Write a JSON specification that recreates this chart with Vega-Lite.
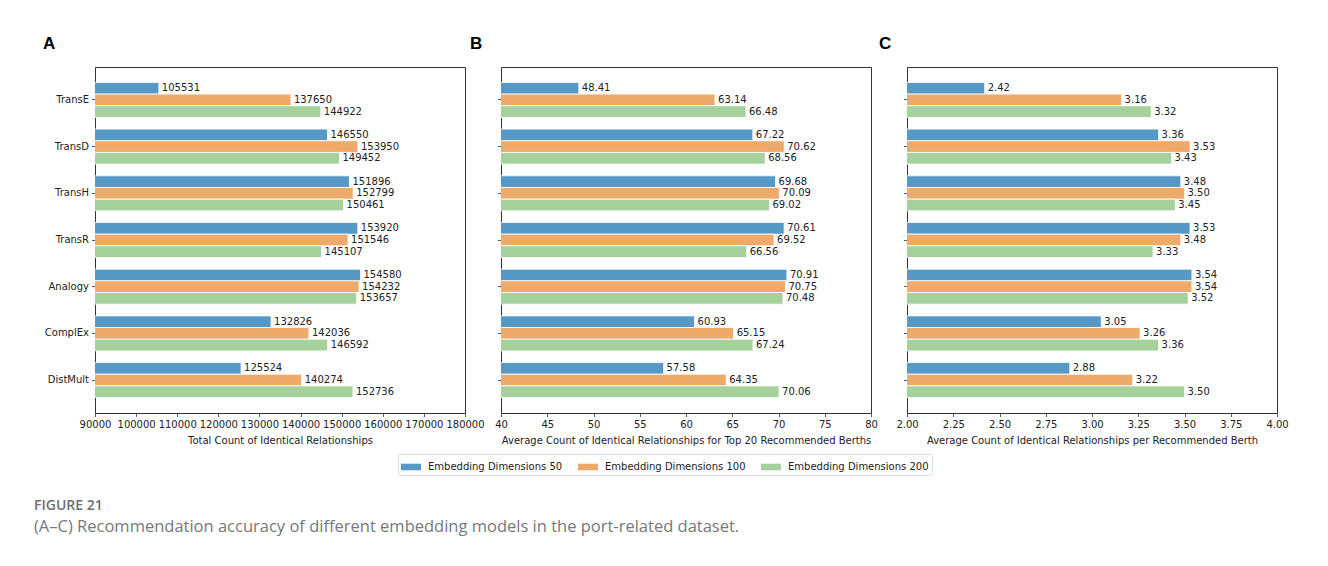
{
  "$schema": "https://vega.github.io/schema/vega-lite/v6.json",
  "background": "white",
  "padding": {"left": 34, "top": 34, "right": 10, "bottom": 10},
  "datasets": {
    "scores": [
      {"model": "TransE", "series": "Embedding Dimensions 50", "total": 105531, "top20": 48.41, "perBerth": 2.42},
      {"model": "TransE", "series": "Embedding Dimensions 100", "total": 137650, "top20": 63.14, "perBerth": 3.16},
      {"model": "TransE", "series": "Embedding Dimensions 200", "total": 144922, "top20": 66.48, "perBerth": 3.32},
      {"model": "TransD", "series": "Embedding Dimensions 50", "total": 146550, "top20": 67.22, "perBerth": 3.36},
      {"model": "TransD", "series": "Embedding Dimensions 100", "total": 153950, "top20": 70.62, "perBerth": 3.53},
      {"model": "TransD", "series": "Embedding Dimensions 200", "total": 149452, "top20": 68.56, "perBerth": 3.43},
      {"model": "TransH", "series": "Embedding Dimensions 50", "total": 151896, "top20": 69.68, "perBerth": 3.48},
      {"model": "TransH", "series": "Embedding Dimensions 100", "total": 152799, "top20": 70.09, "perBerth": 3.50},
      {"model": "TransH", "series": "Embedding Dimensions 200", "total": 150461, "top20": 69.02, "perBerth": 3.45},
      {"model": "TransR", "series": "Embedding Dimensions 50", "total": 153920, "top20": 70.61, "perBerth": 3.53},
      {"model": "TransR", "series": "Embedding Dimensions 100", "total": 151546, "top20": 69.52, "perBerth": 3.48},
      {"model": "TransR", "series": "Embedding Dimensions 200", "total": 145107, "top20": 66.56, "perBerth": 3.33},
      {"model": "Analogy", "series": "Embedding Dimensions 50", "total": 154580, "top20": 70.91, "perBerth": 3.54},
      {"model": "Analogy", "series": "Embedding Dimensions 100", "total": 154232, "top20": 70.75, "perBerth": 3.54},
      {"model": "Analogy", "series": "Embedding Dimensions 200", "total": 153657, "top20": 70.48, "perBerth": 3.52},
      {"model": "ComplEx", "series": "Embedding Dimensions 50", "total": 132826, "top20": 60.93, "perBerth": 3.05},
      {"model": "ComplEx", "series": "Embedding Dimensions 100", "total": 142036, "top20": 65.15, "perBerth": 3.26},
      {"model": "ComplEx", "series": "Embedding Dimensions 200", "total": 146592, "top20": 67.24, "perBerth": 3.36},
      {"model": "DistMult", "series": "Embedding Dimensions 50", "total": 125524, "top20": 57.58, "perBerth": 2.88},
      {"model": "DistMult", "series": "Embedding Dimensions 100", "total": 140274, "top20": 64.35, "perBerth": 3.22},
      {"model": "DistMult", "series": "Embedding Dimensions 200", "total": 152736, "top20": 70.06, "perBerth": 3.50}
    ]
  },
  "title": {
    "text": "FIGURE 21",
    "subtitle": "(A–C) Recommendation accuracy of different embedding models in the port-related dataset.",
    "orient": "bottom",
    "anchor": "start",
    "frame": "group",
    "dx": -61,
    "offset": 23,
    "font": "Open Sans",
    "fontSize": 14,
    "fontWeight": 600,
    "color": "#6d6e71",
    "subtitleFont": "Open Sans",
    "subtitleFontSize": 16.5,
    "subtitleColor": "#77787b",
    "subtitlePadding": 6
  },
  "bounds": "flush",
  "spacing": 36,
  "hconcat": [
    {
      "width": 370,
      "height": 346,
      "data": {"name": "scores"},
      "title": {"text": "A", "anchor": "start", "frame": "group", "dx": -52, "offset": 14, "font": "Liberation Sans", "fontSize": 17, "fontWeight": "bold", "color": "#000000"},
      "encoding": {
        "y": {"field": "model", "type": "nominal", "sort": null, "title": null,
              "scale": {"paddingInner": 0.25, "paddingOuter": 0.33},
              "axis": {"labels": true}},
        "yOffset": {"field": "series", "type": "nominal", "sort": ["Embedding Dimensions 50", "Embedding Dimensions 100", "Embedding Dimensions 200"], "scale": {"paddingInner": 0, "paddingOuter": 0}},
        "x": {"field": "total", "type": "quantitative", "title": "Total Count of Identical Relationships",
              "scale": {"domain": [90000, 180000], "zero": false, "nice": false},
              "axis": {"values": [90000, 100000, 110000, 120000, 130000, 140000, 150000, 160000, 170000, 180000], "format": "d"}}
      },
      "layer": [
        {"mark": {"type": "bar", "clip": true, "stroke": "white", "strokeWidth": 0.8},
         "encoding": {"color": {"field": "series", "type": "nominal", "title": null,
                                "scale": {"domain": ["Embedding Dimensions 50", "Embedding Dimensions 100", "Embedding Dimensions 200"], "range": ["#5799c6", "#eeaa6b", "#a6d19d"]}}}},
        {"mark": {"type": "text", "align": "left", "baseline": "middle", "dx": 3, "fontSize": 10, "font": "DejaVu Sans", "color": "#222222"},
         "encoding": {"text": {"field": "total", "type": "quantitative", "format": "d"}}}
      ]
    },
    {
      "width": 370,
      "height": 346,
      "data": {"name": "scores"},
      "title": {"text": "B", "anchor": "start", "frame": "group", "dx": -31, "offset": 14, "font": "Liberation Sans", "fontSize": 17, "fontWeight": "bold", "color": "#000000"},
      "encoding": {
        "y": {"field": "model", "type": "nominal", "sort": null, "title": null,
              "scale": {"paddingInner": 0.25, "paddingOuter": 0.33},
              "axis": {"labels": false}},
        "yOffset": {"field": "series", "type": "nominal", "sort": ["Embedding Dimensions 50", "Embedding Dimensions 100", "Embedding Dimensions 200"], "scale": {"paddingInner": 0, "paddingOuter": 0}},
        "x": {"field": "top20", "type": "quantitative", "title": "Average Count of Identical Relationships for Top 20 Recommended Berths",
              "scale": {"domain": [40, 80], "zero": false, "nice": false},
              "axis": {"values": [40, 45, 50, 55, 60, 65, 70, 75, 80], "format": "d"}}
      },
      "layer": [
        {"mark": {"type": "bar", "clip": true, "stroke": "white", "strokeWidth": 0.8},
         "encoding": {"color": {"field": "series", "type": "nominal", "title": null,
                                "scale": {"domain": ["Embedding Dimensions 50", "Embedding Dimensions 100", "Embedding Dimensions 200"], "range": ["#5799c6", "#eeaa6b", "#a6d19d"]}}}},
        {"mark": {"type": "text", "align": "left", "baseline": "middle", "dx": 3, "fontSize": 10, "font": "DejaVu Sans", "color": "#222222"},
         "encoding": {"text": {"field": "top20", "type": "quantitative", "format": ".2f"}}}
      ]
    },
    {
      "width": 370,
      "height": 346,
      "data": {"name": "scores"},
      "title": {"text": "C", "anchor": "start", "frame": "group", "dx": -28, "offset": 14, "font": "Liberation Sans", "fontSize": 17, "fontWeight": "bold", "color": "#000000"},
      "encoding": {
        "y": {"field": "model", "type": "nominal", "sort": null, "title": null,
              "scale": {"paddingInner": 0.25, "paddingOuter": 0.33},
              "axis": {"labels": false}},
        "yOffset": {"field": "series", "type": "nominal", "sort": ["Embedding Dimensions 50", "Embedding Dimensions 100", "Embedding Dimensions 200"], "scale": {"paddingInner": 0, "paddingOuter": 0}},
        "x": {"field": "perBerth", "type": "quantitative", "title": "Average Count of Identical Relationships per Recommended Berth",
              "scale": {"domain": [2, 4], "zero": false, "nice": false},
              "axis": {"values": [2, 2.25, 2.5, 2.75, 3, 3.25, 3.5, 3.75, 4], "format": ".2f"}}
      },
      "layer": [
        {"mark": {"type": "bar", "clip": true, "stroke": "white", "strokeWidth": 0.8},
         "encoding": {"color": {"field": "series", "type": "nominal", "title": null,
                                "scale": {"domain": ["Embedding Dimensions 50", "Embedding Dimensions 100", "Embedding Dimensions 200"], "range": ["#5799c6", "#eeaa6b", "#a6d19d"]}}}},
        {"mark": {"type": "text", "align": "left", "baseline": "middle", "dx": 3, "fontSize": 10, "font": "DejaVu Sans", "color": "#222222"},
         "encoding": {"text": {"field": "perBerth", "type": "quantitative", "format": ".2f"}}}
      ]
    }
  ],
  "resolve": {"scale": {"color": "shared"}},
  "config": {
    "view": {"stroke": "#333333", "strokeWidth": 1},
    "font": "DejaVu Sans",
    "axis": {
      "grid": false,
      "domain": false,
      "tickColor": "#333333",
      "tickSize": 3.5,
      "tickWidth": 0.8,
      "labelFont": "DejaVu Sans",
      "labelFontSize": 10,
      "labelColor": "#222222",
      "titleFont": "DejaVu Sans",
      "titleFontSize": 10,
      "titleFontWeight": "normal",
      "titleColor": "#222222"
    },
    "axisX": {"labelPadding": 3, "titlePadding": 6, "labelFlush": false, "labelOverlap": false},
    "axisY": {"labelPadding": 3},
    "legend": {
      "orient": "none",
      "legendX": 303,
      "legendY": 387,
      "direction": "horizontal",
      "symbolType": "M-1,-0.33H1V0.33H-1Z",
      "symbolSize": 400,
      "symbolStrokeWidth": 0,
      "labelFont": "DejaVu Sans",
      "labelFontSize": 10,
      "labelColor": "#222222",
      "labelOffset": 7,
      "columnPadding": 15,
      "padding": 3,
      "strokeColor": "#dddddd",
      "fillColor": "white",
      "cornerRadius": 2
    }
  }
}
